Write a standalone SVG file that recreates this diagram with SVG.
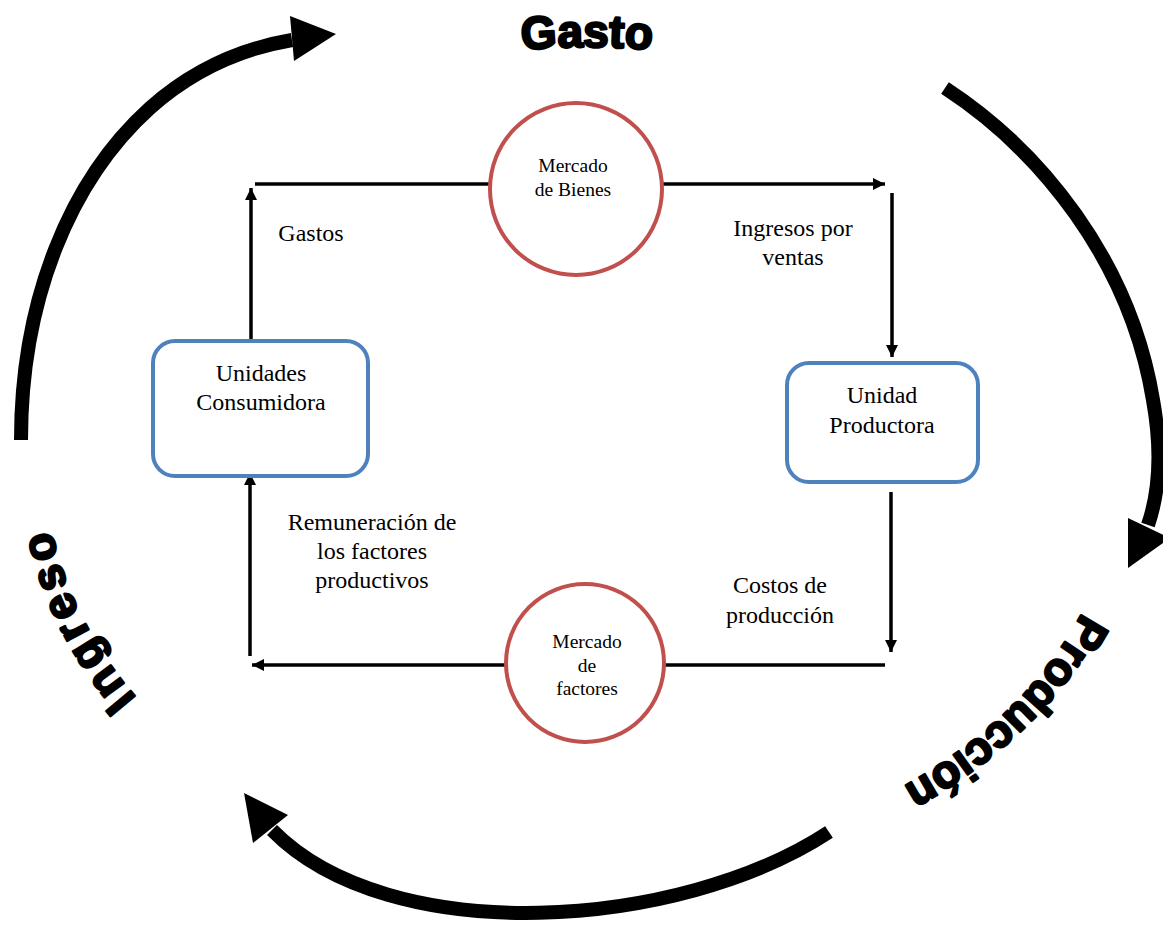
<svg xmlns="http://www.w3.org/2000/svg" width="1163" height="930" viewBox="0 0 1163 930">
<style>
.lbl{font-family:"Liberation Serif","Times New Roman",serif;font-size:24px;fill:#000;text-anchor:middle}
.sm{font-family:"Liberation Serif","Times New Roman",serif;font-size:19.5px;fill:#000;text-anchor:middle}
.big{font-family:"Liberation Sans",Arial,sans-serif;font-weight:bold;font-size:46px;fill:#000;stroke:#000;stroke-width:2.4;stroke-linejoin:round;text-anchor:middle}
.box{fill:#fff;stroke:#4F81BD;stroke-width:4}
.mkt{fill:#fff;stroke:#C0504D;stroke-width:4}
.conn{fill:none;stroke:#000;stroke-width:3.5}
.flow{fill:none;stroke:#000;stroke-width:14}
</style>
<defs>
<marker id="ah" markerUnits="userSpaceOnUse" markerWidth="13" markerHeight="13" refX="12" refY="6" orient="auto">
<path d="M0,0 L12,6 L0,12 z" fill="#000"/>
</marker>
<path id="pGasto" d="M 47 465 A 540 418 0 0 1 1127 465"/>
<path id="pProd" d="M 1108.3 381.8 A 535 400 0 0 1 677.9 858.9"/>
<path id="pIng" d="M 298.9 819.5 A 540 418 0 0 1 75 327.5"/>
</defs>
<rect width="1163" height="930" fill="#fff"/>

<g id="big-flows">
<path class="flow" d="M21,440 C21,300 70,180 150,108 C195,68 245,48 292,40"/>
<polygon points="336,34 290,16 294,61" fill="#000"/>
<path class="flow" d="M945,88 C1040,150 1130,260 1153,400 C1162,450 1160,490 1148,525"/>
<polygon points="1128,568 1128,518 1170,538" fill="#000"/>
<path class="flow" d="M829,832 C680,930 390,950 272,830"/>
<polygon points="244,793 288,815 253,843" fill="#000"/>
</g>

<g id="big-labels">
<text class="big"><textPath href="#pGasto" startOffset="50%">Gasto</textPath></text>
<text class="big"><textPath href="#pProd" startOffset="50%">Producción</textPath></text>
<text class="big" letter-spacing="4"><textPath href="#pIng" startOffset="50%">Ingreso</textPath></text>
</g>

<g id="connectors">
<line class="conn" x1="251" y1="340" x2="251" y2="188" marker-end="url(#ah)"/>
<line class="conn" x1="255" y1="184" x2="490" y2="184"/>
<line class="conn" x1="662" y1="184" x2="885" y2="184" marker-end="url(#ah)"/>
<line class="conn" x1="892" y1="193" x2="892" y2="357" marker-end="url(#ah)"/>
<line class="conn" x1="891" y1="492" x2="891" y2="652" marker-end="url(#ah)"/>
<line class="conn" x1="885" y1="665" x2="664" y2="665"/>
<line class="conn" x1="506" y1="665" x2="252" y2="665" marker-end="url(#ah)"/>
<line class="conn" x1="250" y1="656" x2="250" y2="473" marker-end="url(#ah)"/>
<text class="lbl" x="311" y="241">Gastos</text>
<text class="lbl" x="793" y="236">Ingresos por</text>
<text class="lbl" x="793" y="265">ventas</text>
<text class="lbl" x="372" y="530">Remuneración de</text>
<text class="lbl" x="372" y="559">los factores</text>
<text class="lbl" x="372" y="588">productivos</text>
<text class="lbl" x="780" y="593">Costos de</text>
<text class="lbl" x="780" y="623">producción</text>
</g>

<g id="mercado-bienes">
<circle class="mkt" cx="576" cy="189" r="86"/>
<text class="sm" x="573" y="172">Mercado</text>
<text class="sm" x="573" y="196">de Bienes</text>
</g>

<g id="mercado-factores">
<circle class="mkt" cx="585" cy="663" r="79"/>
<text class="sm" x="587" y="648">Mercado</text>
<text class="sm" x="587" y="672">de</text>
<text class="sm" x="587" y="695">factores</text>
</g>

<g id="unidades-consumidora">
<rect class="box" x="153" y="341" width="215" height="135" rx="22"/>
<text class="lbl" x="261" y="381">Unidades</text>
<text class="lbl" x="261" y="410">Consumidora</text>
</g>

<g id="unidad-productora">
<rect class="box" x="787" y="363" width="191" height="119" rx="22"/>
<text class="lbl" x="882" y="403">Unidad</text>
<text class="lbl" x="882" y="433">Productora</text>
</g>
</svg>
